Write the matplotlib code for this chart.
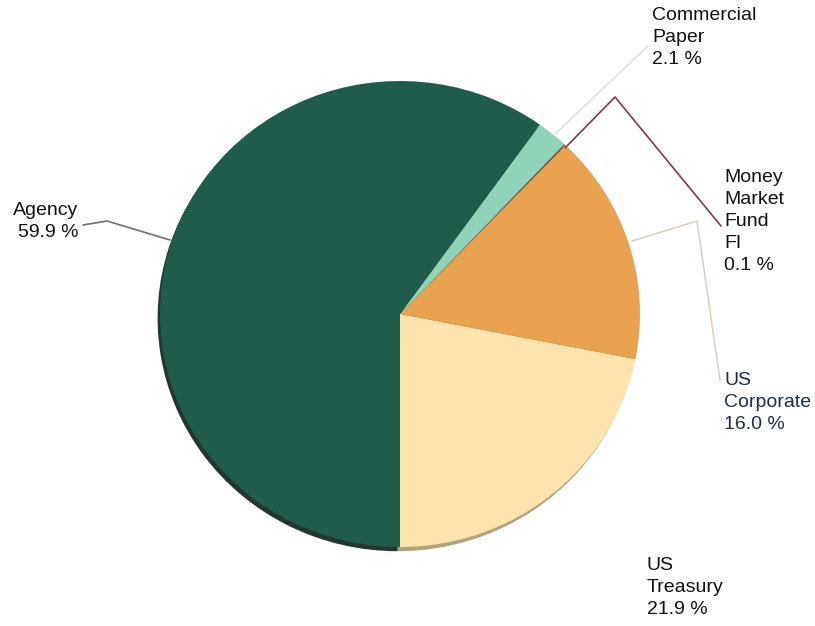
import matplotlib

matplotlib.use("Agg")
import matplotlib.pyplot as plt

# slice order, counter-clockwise from 6 o'clock
labels = ["US Treasury", "US Corporate", "Money Market Fund FI", "Commercial Paper", "Agency"]
shares = [21.9, 16.0, 0.1, 2.1, 59.9]
label_text = ["US\nTreasury\n21.9 %", "US\nCorporate\n16.0 %", "Money\nMarket\nFund\nFI\n0.1 %",
              "Commercial\nPaper\n2.1 %", "Agency\n59.9 %"]
colors = ["#fde3ad", "#e9a24f", "#7b3b4e", "#8fd3b9", "#1f5c4b"]
shadow_colors = ["#b3a27a", "#a8743a", "#5a2a38", "#5f9a84", "#25352f"]

W, H = 815, 626
CX, CY, RX, RY = 400, 314, 240, 233


def px(x, y):
    """pixel position -> data coords (pie radius 1)"""
    return (x - CX) / RX, (CY - y) / RY


plt.rcParams.update({"font.family": ["Liberation Sans", "DejaVu Sans"]})
fig = plt.figure(figsize=(W / 100, H / 100), dpi=100)
ax = fig.add_axes([0, 0, 1, 1])

# 3D-ish rim underneath
ax.pie(shares, colors=shadow_colors, startangle=-90, counterclock=True,
       center=(-0.01, -0.018), radius=1.0, frame=True,
       wedgeprops=dict(linewidth=0))
ax.pie(shares, colors=colors, startangle=-90, counterclock=True,
       center=(0, 0), radius=1.0, frame=True,
       wedgeprops=dict(linewidth=0))
ax.set_aspect("auto")
ax.set_xlim(-CX / RX, (W - CX) / RX)
ax.set_ylim(-(H - CY) / RY, CY / RY)
ax.axis("off")

# leader lines
leaders = [
    ([(555, 134), (648, 46)], "#e2e2e2"),
    ([(565, 148), (615, 97), (721, 226)], "#7b3b4e"),
    ([(632, 241), (697, 221), (720, 380)], "#d9d2c2"),
    ([(170, 240), (107, 221), (83, 225)], "#707070"),
]
for pts, c in leaders:
    xy = [px(*p) for p in pts]
    ax.plot([p[0] for p in xy], [p[1] for p in xy], color=c, lw=1.2, solid_capstyle="round")

# labels: (pixel x, pixel top y, ha, colour)
label_pos = [(647, 557, "left", "#111111"), (724, 372, "left", "#1e2d45"),
             (724, 169, "left", "#111111"), (652, 7, "left", "#111111"),
             (78, 202, "right", "#111111")]
for txt, (x, y, ha, c) in zip(label_text, label_pos):
    tx, ty = px(x, y)
    ax.text(tx, ty, txt, ha=ha, va="top", fontsize=14, color=c,
            linespacing=1.38, multialignment=ha)

fig.savefig("out.png", dpi=100)
